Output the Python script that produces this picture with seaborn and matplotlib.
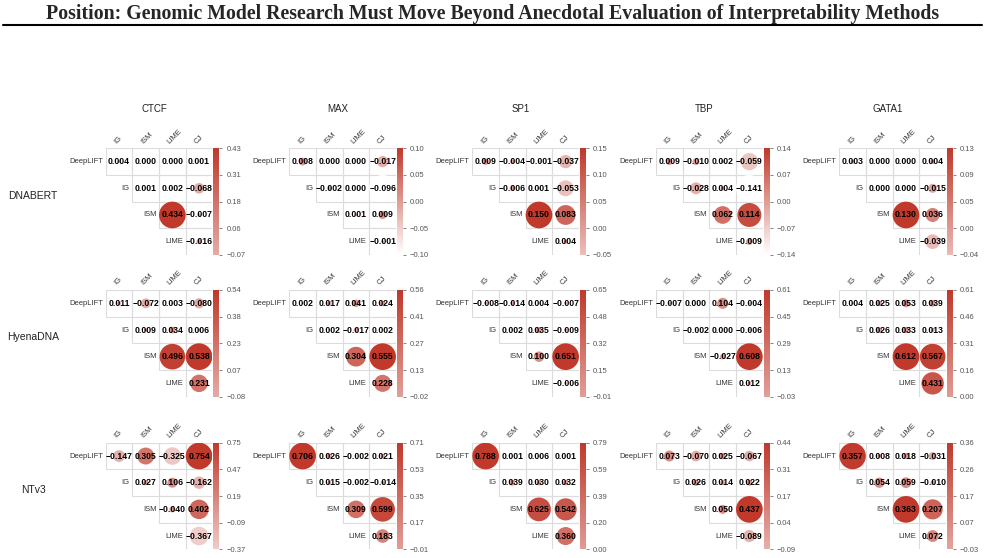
import numpy as np
import pandas as pd
import matplotlib
matplotlib.use("Agg")
import matplotlib.pyplot as plt
import seaborn as sns
from matplotlib.colors import LinearSegmentedColormap, Normalize, ListedColormap
from matplotlib.cm import ScalarMappable
from matplotlib.lines import Line2D
from matplotlib.patches import Rectangle

# ---------------- data ----------------
models = ["DNABERT", "HyenaDNA", "NTv3"]
tfs = ["CTCF", "MAX", "SP1", "TBP", "GATA1"]
row_methods = ["DeepLIFT", "IG", "ISM", "LIME"]
col_methods = ["IG", "ISM", "LIME", "CJ"]

# upper triangle, row order: DeepLIFT(IG,ISM,LIME,CJ), IG(ISM,LIME,CJ), ISM(LIME,CJ), LIME(CJ)
dnabert_ctcf = [0.004, 0.000, 0.000, 0.001, 0.001, 0.002, -0.068, 0.434, -0.007, -0.016]
dnabert_max = [0.008, 0.000, 0.000, -0.017, -0.002, 0.000, -0.096, 0.001, 0.009, -0.001]
dnabert_sp1 = [0.009, -0.004, -0.001, -0.037, -0.006, 0.001, -0.053, 0.150, 0.083, 0.004]
dnabert_tbp = [0.009, -0.010, 0.002, -0.059, -0.028, 0.004, -0.141, 0.062, 0.114, -0.009]
dnabert_gata1 = [0.003, 0.000, 0.000, 0.004, 0.000, 0.000, -0.015, 0.130, 0.036, -0.039]

hyena_ctcf = [0.011, -0.072, 0.003, -0.080, 0.009, 0.034, 0.006, 0.496, 0.538, 0.231]
hyena_max = [0.002, 0.017, 0.041, 0.024, 0.002, -0.017, 0.002, 0.304, 0.555, 0.228]
hyena_sp1 = [-0.008, -0.014, 0.004, -0.007, 0.002, 0.035, -0.009, 0.100, 0.651, -0.006]
hyena_tbp = [-0.007, 0.000, 0.104, -0.004, -0.002, 0.000, -0.006, -0.027, 0.608, 0.012]
hyena_gata1 = [0.004, 0.025, 0.053, 0.039, 0.026, 0.033, 0.013, 0.612, 0.567, 0.431]

ntv3_ctcf = [-0.147, 0.305, -0.325, 0.754, 0.027, 0.106, -0.162, -0.040, 0.402, -0.367]
ntv3_max = [0.706, 0.026, -0.002, 0.021, 0.015, -0.002, -0.014, 0.309, 0.599, 0.183]
ntv3_sp1 = [0.788, 0.001, 0.006, 0.001, 0.039, 0.030, 0.032, 0.625, 0.542, 0.360]
ntv3_tbp = [0.073, -0.070, 0.025, -0.067, 0.026, 0.014, 0.022, 0.050, 0.437, -0.089]
ntv3_gata1 = [0.357, 0.008, 0.018, -0.031, 0.054, 0.059, -0.010, 0.363, 0.207, 0.072]

panels = {
    ("DNABERT", "CTCF"): dnabert_ctcf, ("DNABERT", "MAX"): dnabert_max,
    ("DNABERT", "SP1"): dnabert_sp1, ("DNABERT", "TBP"): dnabert_tbp,
    ("DNABERT", "GATA1"): dnabert_gata1,
    ("HyenaDNA", "CTCF"): hyena_ctcf, ("HyenaDNA", "MAX"): hyena_max,
    ("HyenaDNA", "SP1"): hyena_sp1, ("HyenaDNA", "TBP"): hyena_tbp,
    ("HyenaDNA", "GATA1"): hyena_gata1,
    ("NTv3", "CTCF"): ntv3_ctcf, ("NTv3", "MAX"): ntv3_max,
    ("NTv3", "SP1"): ntv3_sp1, ("NTv3", "TBP"): ntv3_tbp,
    ("NTv3", "GATA1"): ntv3_gata1,
}

title = ("Position: Genomic Model Research Must Move Beyond Anecdotal "
         "Evaluation of Interpretability Methods")

# ---------------- style ----------------
sns.set_style("white")
plt.rcParams["font.family"] = ["Liberation Sans", "DejaVu Sans"]

W, H = 985, 558
fig = plt.figure(figsize=(W / 100, H / 100), dpi=100)

cmap = LinearSegmentedColormap.from_list("wr", ["#ffffff", "#c0392b"])
cell = 26.67
grid_left = [105.7, 289.3, 472.3, 656.0, 839.3]
grid_top = [148.3, 290.0, 442.7]
smax = (cell * 0.72) ** 2  # points^2 for a circle filling the cell


def fmt_val(v):
    s = f"{v:.3f}"
    if s == "-0.000":
        s = "0.000"
    return s.replace("-", "\u2212")


def fmt_tick(v):
    s = f"{v:.2f}"
    if s == "-0.00":
        s = "0.00"
    return s.replace("-", "\u2212")


for r, model in enumerate(models):
    for c, tf in enumerate(tfs):
        vals = panels[(model, tf)]
        mat = np.full((4, 4), np.nan)
        k = 0
        recs = []
        for i in range(4):
            for j in range(i, 4):
                mat[i, j] = vals[k]
                recs.append({"x": j + 0.5, "y": i + 0.5, "val": vals[k],
                             "absval": abs(vals[k])})
                k += 1
        df = pd.DataFrame(mat, index=row_methods, columns=col_methods)
        annot = np.array([[fmt_val(v) if not np.isnan(v) else "" for v in row]
                          for row in mat])
        pts = pd.DataFrame(recs)

        M = float(np.max(np.abs(vals)))
        vmin = float(np.min(vals))

        gl = grid_left[c]
        gt = grid_top[r]
        ax = fig.add_axes([gl / W, 1 - (gt + 4 * cell) / H, 4 * cell / W, 4 * cell / H])
        sns.heatmap(df, ax=ax, mask=np.isnan(mat), cmap=ListedColormap(["white"]),
                    cbar=False, linewidths=0,
                    annot=annot, fmt="",
                    annot_kws=dict(fontsize=6.2, fontweight="bold", color="black"),
                    xticklabels=False, yticklabels=False)
        # cell borders (upper triangle only)
        for i in range(4):
            for j in range(i, 4):
                ax.add_patch(Rectangle((j, i), 1, 1, fill=False, edgecolor="#dcdcdc",
                                       lw=0.8, zorder=1.5))
        sns.scatterplot(data=pts, x="x", y="y", hue="val", palette=cmap,
                        hue_norm=Normalize(-M, M), size="absval",
                        sizes=(0, smax), size_norm=Normalize(0, M),
                        linewidth=0, legend=False, ax=ax, zorder=2)
        for t in ax.texts:
            t.set_zorder(5)
        ax.set_xlim(0, 4)
        ax.set_ylim(4, 0)
        ax.set_xlabel("")
        ax.set_ylabel("")
        ax.set_xticks([])
        ax.set_yticks([])
        for s in ax.spines.values():
            s.set_visible(False)
        ax.patch.set_alpha(0)

        # row labels
        for i, name in enumerate(row_methods):
            ax.text(i - 0.1, i + 0.5, name, ha="right", va="center",
                    fontsize=5.5, color="#333333")
        # column labels
        for j, name in enumerate(col_methods):
            ax.text(j + 0.45, -0.12, name, ha="left", va="bottom", rotation=45,
                    rotation_mode="anchor", fontsize=5.5, color="#333333")

        # colorbar
        cax = fig.add_axes([(gl + 4 * cell + 1) / W, 1 - (gt + 4 * cell) / H,
                            6 / W, 4 * cell / H])
        sm = ScalarMappable(norm=Normalize(-M, M), cmap=cmap)
        cb = fig.colorbar(sm, cax=cax, boundaries=np.linspace(vmin, M, 200))
        ticks = np.linspace(vmin, M, 5)
        cb.set_ticks(ticks)
        cb.set_ticklabels([fmt_tick(t) for t in ticks])
        cb.outline.set_visible(False)
        cax.tick_params(labelsize=5.5, colors="#555555", length=2, width=0.5, pad=3)

        if r == 0:
            fig.text((gl + 2 * cell - 5) / W, 1 - 109 / H, tf, ha="center",
                     va="center", fontsize=7, color="#222222")
        if c == 0:
            fig.text(33 / W, 1 - (gt + 2 * cell - 6) / H, model, ha="center",
                     va="center", fontsize=7.5, color="#222222")

fig.text(0.5, 1 - 14 / H, title, ha="center", va="center", fontsize=14.3,
         fontweight="bold", family=["Liberation Serif", "DejaVu Serif"])
fig.add_artist(Line2D([3 / W, 982 / W], [1 - 25 / H, 1 - 25 / H],
                      color="black", lw=1.5, transform=fig.transFigure))

fig.savefig("out.png", dpi=100)
